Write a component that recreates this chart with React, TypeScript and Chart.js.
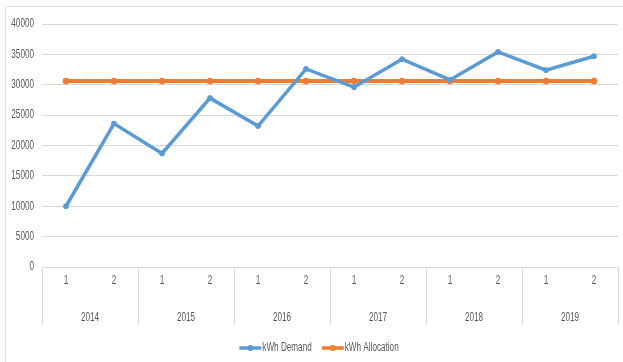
import React, { useEffect, useRef } from "react";
import { Chart, registerables } from "chart.js";

Chart.register(...registerables);

// Half-year periods within each year
const periods = ["1", "2", "1", "2", "1", "2", "1", "2", "1", "2", "1", "2"];
const years = ["2014", "2015", "2016", "2017", "2018", "2019"];

const demandLabel = "kWh Demand";
const allocationLabel = "kWh Allocation";

const kwhDemand = [10000, 23600, 18700, 27800, 23200, 32600, 29600, 34200, 30800, 35400, 32400, 34700];
const kwhAllocation = [30600, 30600, 30600, 30600, 30600, 30600, 30600, 30600, 30600, 30600, 30600, 30600];

const yTicks = [0, 5000, 10000, 15000, 20000, 25000, 30000, 35000, 40000];

const FONT = "12px 'Liberation Sans', sans-serif";
const SQUEEZE = 0.68; // condensed look for all labels
const TEXT = "#595959";
const GRID = "#d9d9d9";
const BLUE = "#5B9BD5";
const ORANGE = "#ED7D31";

function label(ctx: CanvasRenderingContext2D, text: string, x: number, y: number, align: CanvasTextAlign) {
  ctx.save();
  ctx.translate(x, y);
  ctx.scale(SQUEEZE, 1);
  ctx.textAlign = align;
  ctx.textBaseline = "middle";
  ctx.fillText(text, 0, 0);
  ctx.restore();
}

// Draws the outer frame, axis labels, the grouped year row and the legend.
const decorations = {
  id: "decorations",
  beforeDraw(chart: any) {
    const ctx = chart.ctx;
    ctx.save();
    ctx.strokeStyle = "#e0e0e0";
    ctx.lineWidth = 1;
    ctx.beginPath();
    ctx.moveTo(5.5, chart.height);
    ctx.lineTo(5.5, 6.5);
    ctx.lineTo(chart.width, 6.5);
    ctx.stroke();
    ctx.restore();
  },
  afterDraw(chart: any) {
    const ctx = chart.ctx;
    const area = chart.chartArea;
    const x = chart.scales.x;
    const y = chart.scales.y;
    const top = area.bottom;
    const bottom = x.bottom;

    ctx.save();
    ctx.strokeStyle = GRID;
    ctx.lineWidth = 1;
    const bounds: number[] = [area.left];
    for (let g = 1; g < years.length; g++) {
      bounds.push((x.getPixelForValue(2 * g - 1) + x.getPixelForValue(2 * g)) / 2);
    }
    bounds.push(area.right);
    ctx.beginPath();
    bounds.forEach((b) => {
      const px = Math.round(b) + 0.5;
      ctx.moveTo(px, top);
      ctx.lineTo(px, bottom);
    });
    ctx.stroke();

    ctx.fillStyle = TEXT;
    ctx.font = FONT;

    yTicks.forEach((v) => label(ctx, String(v), area.left - 8, y.getPixelForValue(v), "right"));
    periods.forEach((p, i) => label(ctx, p, x.getPixelForValue(i), top + 14, "center"));
    years.forEach((yr, g) => {
      const cx = (x.getPixelForValue(2 * g) + x.getPixelForValue(2 * g + 1)) / 2;
      label(ctx, yr, cx, top + 51, "center");
    });

    // legend
    const items = chart.data.datasets.map((d: any) => ({ label: d.label, color: d.borderColor }));
    const sample = 22;
    const gap = 1;
    const spacing = 10;
    const widths = items.map((it: any) => sample + gap + ctx.measureText(it.label).width * SQUEEZE);
    const total = widths.reduce((a: number, b: number) => a + b, 0) + spacing * (items.length - 1);
    let lx = 319 - total / 2;
    const ly = 348;
    items.forEach((it: any, i: number) => {
      ctx.strokeStyle = it.color;
      ctx.fillStyle = it.color;
      ctx.lineWidth = 3.5;
      ctx.beginPath();
      ctx.moveTo(lx, ly);
      ctx.lineTo(lx + sample, ly);
      ctx.stroke();
      ctx.beginPath();
      ctx.arc(lx + sample / 2, ly, 3, 0, Math.PI * 2);
      ctx.fill();
      ctx.fillStyle = TEXT;
      label(ctx, it.label, lx + sample + gap, ly, "left");
      lx += widths[i] + spacing;
    });
    ctx.restore();
  },
};

export default function App() {
  const ref = useRef<HTMLCanvasElement | null>(null);

  useEffect(() => {
    if (!ref.current) return;
    const chart = new Chart(ref.current, {
      type: "line",
      data: {
        labels: periods,
        datasets: [
          {
            label: demandLabel,
            data: kwhDemand,
            borderColor: BLUE,
            backgroundColor: BLUE,
            borderWidth: 3.5,
            pointRadius: 2.5,
            pointBackgroundColor: BLUE,
            pointBorderColor: BLUE,
            pointBorderWidth: 1,
            tension: 0,
          },
          {
            label: allocationLabel,
            data: kwhAllocation,
            borderColor: ORANGE,
            backgroundColor: ORANGE,
            borderWidth: 4,
            pointRadius: 3,
            pointBackgroundColor: ORANGE,
            pointBorderColor: ORANGE,
            pointBorderWidth: 1,
            tension: 0,
          },
        ],
      },
      options: {
        responsive: false,
        animation: false,
        layout: { padding: { top: 24, left: 0, right: 5, bottom: 37 } },
        plugins: {
          legend: { display: false },
          tooltip: { enabled: false },
          title: { display: false },
        },
        scales: {
          x: {
            type: "category",
            offset: true,
            grid: { display: false },
            border: { display: false },
            ticks: { display: false },
            afterFit(scale: any) {
              scale.height = 58;
            },
          },
          y: {
            min: 0,
            max: 40000,
            afterBuildTicks(scale: any) {
              scale.ticks = yTicks.map((v) => ({ value: v }));
            },
            grid: { color: GRID, drawTicks: false, lineWidth: 1 },
            border: { display: false },
            ticks: { display: false },
            afterFit(scale: any) {
              scale.width = 42;
            },
          },
        },
      },
      plugins: [decorations],
    });
    return () => chart.destroy();
  }, []);

  return (
    <div style={{ position: "fixed", left: 0, top: 0, width: 623, height: 362, background: "#fff" }}>
      <canvas ref={ref} width={623} height={362} />
    </div>
  );
}
